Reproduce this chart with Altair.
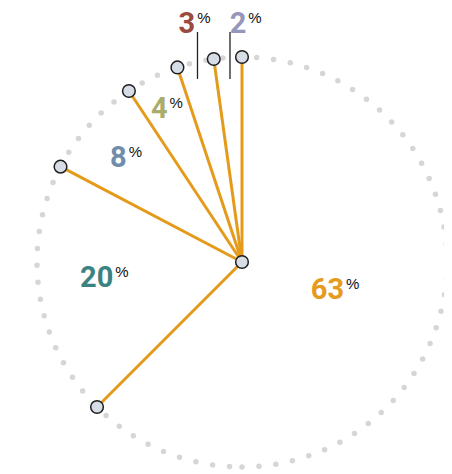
import math
import pandas as pd
import altair as alt

# ---- data ----
shares = [62.5, 20.2, 8.0, 4.2, 2.9, 2.2]
label_colors = ["#E59B1E", "#3B8383", "#6F8DAB", "#A9AC6C", "#9B4A40", "#9497BA"]

# ---- layout (not data) ----
R = 205.0
CX, CY = 234, 254
label_r = [106, 129, 156, 171, 244, 240]
label_shift = [-8, 2, 0.5, 0.3, 2.2, 5.1]
outside = [False, False, False, False, True, True]
leader_shift = 0.6
leader_top, leader_bottom = 1.122, 0.893

LINE = "#E49B1C"
NUM_FONT = "Roboto, sans-serif"

rows = []
cum = 0.0
for i, v in enumerate(shares):
    start = cum
    cum += v
    a_end = cum / 100 * 2 * math.pi
    mid = (start + cum) / 2 / 100 * 360
    la = math.radians(mid + label_shift[i])
    lr = label_r[i] / R
    ma = math.radians(mid + leader_shift)
    rows.append(dict(
        idx=i,
        share=v,
        label=str(int(math.floor(v + 0.5))),
        pct="%",
        color=label_colors[i],
        cx=0.0, cy=0.0,
        ex=math.sin(a_end), ey=math.cos(a_end),
        lx=lr * math.sin(la), ly=lr * math.cos(la),
        mx=math.sin(ma), top=leader_top, bot=leader_bottom,
        outside=outside[i],
    ))
df = pd.DataFrame(rows)
lead_df = df[df["outside"]]
center_df = pd.DataFrame({"cx": [0.0], "cy": [0.0]})

xs = alt.Scale(domain=[-1, 1], range=[CX - R, CX + R])
ys = alt.Scale(domain=[-1, 1], range=[CY + R, CY - R])

ring = alt.Chart(pd.DataFrame({"a": [0]})).mark_arc(
    theta=3 * math.pi, theta2=math.pi, radius=R,
    stroke="#d6d6d6", strokeWidth=5.5, strokeDash=[0, 17], strokeCap="round",
    fill="white", fillOpacity=0,
).encode(x=alt.value(CX), y=alt.value(CY))

base = alt.Chart(df)

spokes = base.mark_rule(color=LINE, strokeWidth=3).encode(
    x=alt.X("cx:Q", scale=xs, axis=None), x2="ex:Q",
    y=alt.Y("cy:Q", scale=ys, axis=None), y2="ey:Q",
)

leaders = alt.Chart(lead_df).mark_rule(color="#222222", strokeWidth=1.3).encode(
    x=alt.X("mx:Q", scale=xs, axis=None),
    y=alt.Y("top:Q", scale=ys, axis=None), y2="bot:Q",
)

ends = base.mark_point(filled=True, size=160, shape="circle", fill="#d7dde6",
                       stroke="#1e1e1e", strokeWidth=1.5, opacity=1).encode(
    x=alt.X("ex:Q", scale=xs, axis=None),
    y=alt.Y("ey:Q", scale=ys, axis=None),
)

center = alt.Chart(center_df).mark_point(filled=True, size=160, shape="circle", fill="#d7dde6",
                                          stroke="#1e1e1e", strokeWidth=1.5, opacity=1).encode(
    x=alt.X("cx:Q", scale=xs, axis=None),
    y=alt.Y("cy:Q", scale=ys, axis=None),
)

nums = base.mark_text(align="right", baseline="alphabetic", dy=10.5, dx=-0.5,
                      font=NUM_FONT, fontSize=29, fontWeight="bold").encode(
    x=alt.X("lx:Q", scale=xs, axis=None),
    y=alt.Y("ly:Q", scale=ys, axis=None),
    text="label:N",
    color=alt.Color("color:N", scale=None),
)

pcts = base.mark_text(align="left", baseline="alphabetic", dy=0.5, dx=1.5,
                      font="Liberation Sans, Arial, sans-serif", fontSize=15, color="#111111").encode(
    x=alt.X("lx:Q", scale=xs, axis=None),
    y=alt.Y("ly:Q", scale=ys, axis=None),
    text="pct:N",
)

chart = alt.layer(ring, spokes, leaders, ends, center, nums, pcts).properties(
    width=436, height=466, padding=0,
    autosize=alt.AutoSizeParams(type="none"),
).configure_view(stroke=None)

chart.save("out.html", embed_options={"renderer": "svg", "actions": False})
